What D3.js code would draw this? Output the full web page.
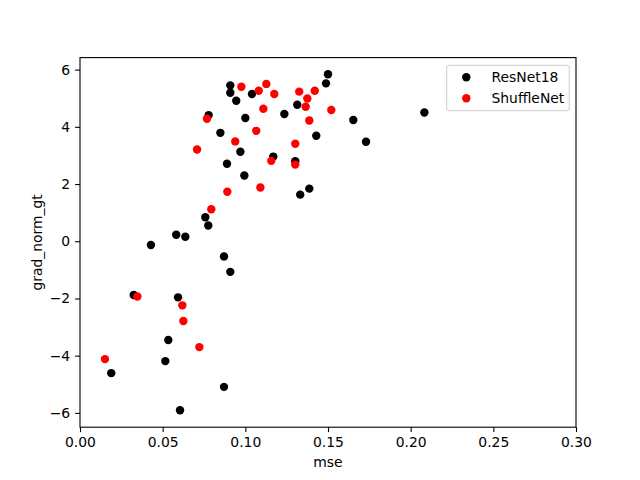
<!DOCTYPE html>
<html>
<head>
<meta charset="utf-8">
<script src="https://cdn.jsdelivr.net/npm/d3@7"></script>
<style>
  body { margin: 0; background: #fff; }
  svg text { font-family: "DejaVu Sans", sans-serif; fill: #000; }
</style>
</head>
<body>
<svg id="chart" width="640" height="480"></svg>
<script>
const seriesNames = ["ResNet18", "ShuffleNet"];
const seriesColors = ["#000000", "#ff0000"];

const resnetMse = [0.0909, 0.0909, 0.0945, 0.0778, 0.1000, 0.0849, 0.0970, 0.0889, 0.0994, 0.0758,
    0.0776, 0.0582, 0.0637, 0.0429, 0.1500, 0.1488, 0.1040, 0.1314, 0.1236, 0.1653,
    0.2083, 0.1429, 0.1730, 0.1169, 0.1302, 0.1387, 0.1332, 0.0871, 0.0909, 0.0325,
    0.0593, 0.0534, 0.0516, 0.0189, 0.0871, 0.0605];
const resnetGrad = [5.45, 5.19, 4.91, 4.41, 4.31, 3.79, 3.13, 2.71, 2.30, 0.84,
    0.55, 0.23, 0.16, -0.13, 5.84, 5.52, 5.15, 4.77, 4.45, 4.24,
    4.50, 3.69, 3.48, 2.96, 2.80, 1.84, 1.63, -0.53, -1.07, -1.88,
    -1.96, -3.45, -4.19, -4.61, -5.09, -5.91];

const shuffleMse = [0.0976, 0.0768, 0.0939, 0.0708, 0.0891, 0.0794, 0.1127, 0.1081, 0.1175, 0.1326,
    0.1420, 0.1375, 0.1365, 0.1520, 0.1109, 0.1387, 0.1066, 0.1302, 0.1157, 0.1302,
    0.1091, 0.0347, 0.0619, 0.0625, 0.0722, 0.0151];
const shuffleGrad = [5.40, 4.28, 3.49, 3.21, 1.73, 1.12, 5.50, 5.26, 5.15, 5.23,
    5.26, 4.99, 4.70, 4.59, 4.63, 4.22, 3.86, 3.41, 2.81, 2.68,
    1.88, -1.93, -2.24, -2.79, -3.70, -4.12];

const xTicks = [0, 0.05, 0.10, 0.15, 0.20, 0.25, 0.30];
const yTicks = [-6, -4, -2, 0, 2, 4, 6];

// layout (matplotlib default axes box)
const box = { left: 80, right: 576, top: 57.6, bottom: 427.2 };

const svg = d3.select("#chart");

const x = d3.scaleLinear().domain([0, 0.30]).range([box.left, box.right]);
const y = d3.scaleLinear().domain([-6.5, 6.42]).range([box.bottom, box.top]);

// Points

const series = [
    { name: seriesNames[0], color: seriesColors[0], xs: resnetMse, ys: resnetGrad },
    { name: seriesNames[1], color: seriesColors[1], xs: shuffleMse, ys: shuffleGrad }
];

series.forEach(s => {
    svg.append("g")
        .selectAll("circle")
        .data(s.xs.map((v, i) => [v, s.ys[i]]))
        .join("circle")
        .attr("cx", d => x(d[0]))
        .attr("cy", d => y(d[1]))
        .attr("r", 4.2)
        .attr("fill", s.color);
});

// Axes

const xAxis = d3.axisBottom(x)
    .tickValues(xTicks)
    .tickFormat(d3.format(".2f"))
    .tickSize(4.9)
    .tickPadding(4.9);

const yAxis = d3.axisLeft(y)
    .tickValues(yTicks)
    .tickFormat(d3.format("d"))
    .tickSize(4.9)
    .tickPadding(4.9);

const gx = svg.append("g")
    .attr("transform", `translate(0,${box.bottom})`)
    .call(xAxis);

const gy = svg.append("g")
    .attr("transform", `translate(${box.left},0)`)
    .call(yAxis);

[gx, gy].forEach(g => {
    g.select(".domain").remove();
    g.selectAll(".tick line").attr("stroke", "#000").attr("stroke-width", 1.1);
    g.selectAll(".tick text").style("font-size", "13.9px").attr("fill", "#000");
});

// frame
svg.append("rect")
    .attr("x", box.left)
    .attr("y", box.top)
    .attr("width", box.right - box.left)
    .attr("height", box.bottom - box.top)
    .attr("fill", "none")
    .attr("stroke", "#000")
    .attr("stroke-width", 1.1);

// Labels

svg.append("text")
    .attr("x", (box.left + box.right) / 2)
    .attr("y", 467)
    .attr("text-anchor", "middle")
    .style("font-size", "13.9px")
    .text("mse");

svg.append("text")
    .attr("transform", `translate(42,${(box.top + box.bottom) / 2}) rotate(-90)`)
    .attr("text-anchor", "middle")
    .style("font-size", "13.9px")
    .text("grad_norm_gt");

// Legend

const legend = svg.append("g");

legend.append("rect")
    .attr("x", 446.7)
    .attr("y", 65.3)
    .attr("width", 122.6)
    .attr("height", 45.4)
    .attr("rx", 2.5)
    .attr("fill", "#fff")
    .attr("fill-opacity", 0.8)
    .attr("stroke", "#cccccc")
    .attr("stroke-width", 1);

series.forEach((s, i) => {
    const ly = 77.3 + i * 21;
    legend.append("circle")
        .attr("cx", 466.3)
        .attr("cy", ly)
        .attr("r", 4.2)
        .attr("fill", s.color);
    legend.append("text")
        .attr("x", 491.5)
        .attr("y", ly)
        .attr("dy", "0.35em")
        .style("font-size", "13.9px")
        .text(s.name);
});
</script>
</body>
</html>
